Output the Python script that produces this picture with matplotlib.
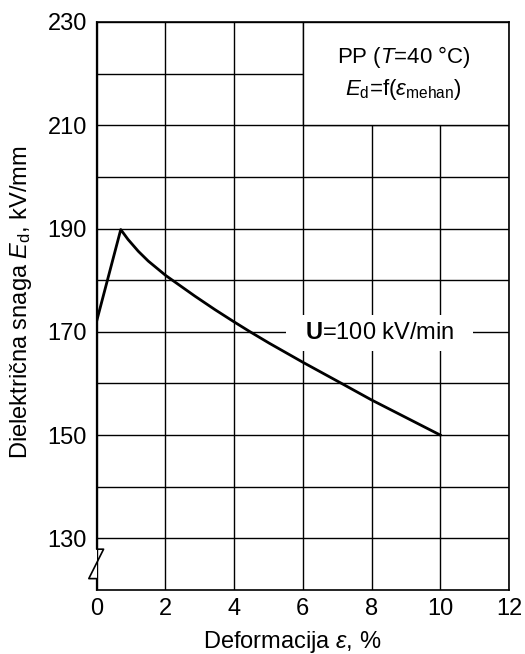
import numpy as np
import matplotlib.pyplot as plt
from matplotlib.patches import Rectangle

plt.rcParams['font.family'] = ['Liberation Sans', 'DejaVu Sans']
plt.rcParams['mathtext.fontset'] = 'custom'
plt.rcParams['mathtext.rm'] = 'Liberation Sans'
plt.rcParams['mathtext.it'] = 'Liberation Sans:italic'
plt.rcParams['mathtext.bf'] = 'Liberation Sans:bold'

# Podaci očitani s grafa
deformacija = [0, 0.70, 0.91, 1.21, 1.50, 2.01, 2.86, 3.44, 3.98,
               4.44, 5.02, 6.0, 7.1, 8.0, 9.0, 10.0]
snaga = [172.1, 189.8, 187.9, 185.6, 183.7, 180.9, 176.9, 174.3, 172.0,
         170.1, 167.8, 164.1, 160.1, 156.8, 153.4, 150.0]

x_ticks = [0, 2, 4, 6, 8, 10, 12]
y_ticks = [130, 150, 170, 190, 210, 230]
y_grid = [130, 140, 150, 160, 170, 180, 190, 200, 210, 220]

fig = plt.figure(figsize=(5.25, 6.54), dpi=100)
ax = fig.add_axes([0.1842, 0.0979, 0.7853, 0.8685])

ax.set_xlim(0, 12)
ax.set_ylim(120, 230)
ax.set_xticks(x_ticks)
ax.set_yticks(y_ticks)
ax.set_yticks(y_grid, minor=True)
ax.tick_params(length=0, labelsize=17)
ax.tick_params(axis='y', pad=7)
ax.tick_params(axis='x', pad=6)
ax.tick_params(which='minor', length=0)

# Mreža
ax.grid(True, which='both', color='black', linewidth=1.0, zorder=1)
ax.set_axisbelow(True)

# Okviri
for s in ['top', 'right', 'bottom']:
    ax.spines[s].set_linewidth(1.2)
ax.spines['left'].set_visible(False)

# Lijeva os s prekidom
ax.plot([0, 0, 0.2, -0.23, 0, 0], [230, 127.9, 127.9, 122.2, 122.2, 120],
        color='black', linewidth=1.2, clip_on=False, zorder=5)

# Kutija s natpisom
ax.add_patch(Rectangle((6, 210), 6, 20, facecolor='white', edgecolor='black',
                       linewidth=1.0, zorder=2))
ax.text(8.93, 223.2, 'PP ($T$=40 °C)', ha='center', va='center', fontsize=16, zorder=3)
ax.text(8.93, 216.9, r'$E_{\rm d}$=f($\varepsilon_{\rm mehan}$)', ha='center', va='center',
        fontsize=16, zorder=3)

# Bijela podloga za oznaku brzine
ax.add_patch(Rectangle((5.5, 166.3), 5.44, 6.9, facecolor='white', edgecolor='none',
                       zorder=2))
ax.text(8.25, 169.8, r'$\mathbf{U}$=100 kV/min', ha='center', va='center', fontsize=17,
        zorder=3)

# Krivulja
ax.plot(deformacija, snaga, color='black', linewidth=2.0, zorder=4,
        solid_joinstyle='round')

ax.set_xlabel('Deformacija $\\varepsilon$, %', fontsize=17)
ax.xaxis.set_label_coords(0.474, -0.069)
ax.set_ylabel('Dielektrična snaga $E_{\\rm d}$, kV/mm', fontsize=17)
ax.yaxis.set_label_coords(-0.152, 0.506)

fig.savefig('out.png', dpi=100)
